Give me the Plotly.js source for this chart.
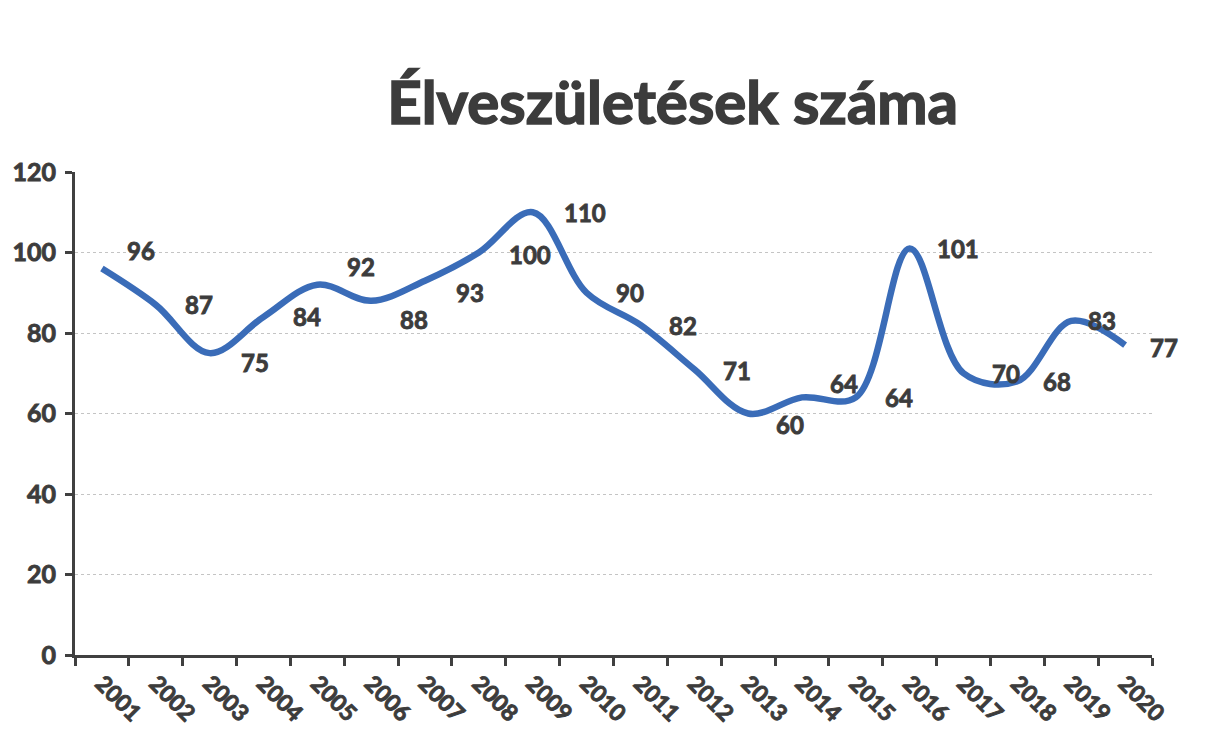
<!DOCTYPE html>
<html>
<head>
<meta charset="utf-8">
<script src="https://cdn.plot.ly/plotly-3.0.1.min.js"></script>
<style>
html,body{margin:0;padding:0;background:#fff;}
#chart{width:1212px;height:747px;}
#chart .annotation-text, #chart .xtick text, #chart .ytick text { stroke:#3c3c3c; stroke-width:0.9px; }
#chart .gtitle { stroke:#3c3c3c; stroke-width:1.6px; }
</style>
</head>
<body>
<div id="chart"></div>
<script>
const years = ['2001','2002','2003','2004','2005','2006','2007','2008','2009','2010','2011','2012','2013','2014','2015','2016','2017','2018','2019','2020'];
const births = [96, 87, 75, 84, 92, 88, 93, 100, 110, 90, 82, 71, 60, 64, 64, 101, 70, 68, 83, 77];
const yTicks = [0, 20, 40, 60, 80, 100, 120];

// label offsets (style only)
const labelDY = [18, 0, -9, 0, 18, -19, -12, -2, 0, 0, -1, -1, -11, 14, 0, 0, 0, 0, 0, -2];
const labelDX = [23, 27, 29, 28, 28, 27, 29, 28, 29, 27, 27, 27, 26, 26, 27, 25, 26, 24, 15, 23];

const textColor = '#3c3c3c';
const fontFam = 'Lato, "Open Sans", "DejaVu Sans", sans-serif';

const annotations = years.map((y, i) => ({
  x: i, y: births[i], xref: 'x', yref: 'y',
  text: String(births[i]), showarrow: false,
  xanchor: 'left', yanchor: 'middle',
  xshift: labelDX[i], yshift: labelDY[i],
  font: {family: fontFam, size: 24, color: textColor, weight: 'bold'}
}));

const trace = {
  x: years, y: births, type: 'scatter', mode: 'lines',
  line: {shape: 'spline', smoothing: 1, color: '#3a6cb8', width: 6.5},
  hoverinfo: 'x+y'
};

const layout = {
  width: 1212, height: 747,
  margin: {l: 75, r: 60, t: 172, b: 92},
  paper_bgcolor: '#ffffff', plot_bgcolor: '#ffffff',
  showlegend: false,
  title: {text: 'Élveszületések száma', x: 0.555, xanchor: 'center', y: 0.862, yanchor: 'middle',
          font: {family: fontFam, size: 60, color: textColor, weight: 'bold'}},
  xaxis: {
    type: 'category', tickson: 'boundaries', ticks: 'outside', ticklen: 8, tickwidth: 3, tickcolor: '#404040',
    showline: true, linecolor: '#404040', linewidth: 3, showgrid: false, zeroline: false, ticklabelstandoff: 3,
    tickangle: 45, tickfont: {family: fontFam, size: 23, color: textColor, weight: 'bold'}, range: [-0.5, 19.5]
  },
  yaxis: {
    range: [0, 120], tickvals: yTicks, ticktext: yTicks.map(String),
    ticks: 'outside', ticklen: 7, tickwidth: 3, tickcolor: '#404040', ticklabelstandoff: 4,
    showline: true, linecolor: '#404040', linewidth: 3,
    showgrid: true, gridcolor: '#c4c4c4', gridwidth: 1, griddash: 'dot', zeroline: false,
    tickfont: {family: fontFam, size: 25, color: textColor, weight: 'bold'}
  },
  annotations: annotations
};

Plotly.newPlot('chart', [trace], layout, {displayModeBar: false, staticPlot: true});
</script>
</body>
</html>
